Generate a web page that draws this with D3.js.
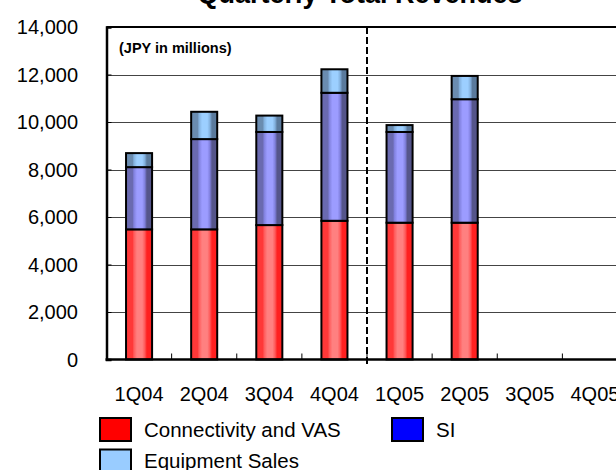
<!DOCTYPE html>
<html>
<head>
<meta charset="utf-8">
<script src="https://cdn.jsdelivr.net/npm/d3@7"></script>
<style>
  html, body { margin: 0; padding: 0; background: #fff; }
  svg { display: block; }
  text { font-family: "Liberation Sans", Arial, sans-serif; }
</style>
</head>
<body>
<svg id="chart" width="616" height="470"></svg>
<script>
// ---- data ----
const categories = ["1Q04", "2Q04", "3Q04", "4Q04", "1Q05", "2Q05", "3Q05", "4Q05"];
const connectivity = [5480, 5480, 5660, 5840, 5760, 5760, null, null];
const si = [2620, 3800, 3920, 5390, 3820, 5200, null, null];
const equipment = [590, 1150, 690, 990, 290, 980, null, null];
const yTicks = [0, 2000, 4000, 6000, 8000, 10000, 12000, 14000];
const seriesNames = ["Connectivity and VAS", "SI", "Equipment Sales"];
const titleText = "Quarterly Total Revenues";
const unitText = "(JPY in millions)";

(function () {
// ---- layout ----
const svg = d3.select("#chart");
const pL = 106.5, pR = 627.5, pT = 27, pB = 359.5;

const x = d3.scaleBand().domain(categories).range([pL, pR])
  .paddingInner(0.6).paddingOuter(0.3);
const y = d3.scaleLinear().domain([0, 14000]).range([pB, pT]);

// gradients
const defs = svg.append("defs");
function grad(id, dark, mid, light, darker) {
  const g = defs.append("linearGradient").attr("id", id)
    .attr("x1", "0%").attr("x2", "100%").attr("y1", "0%").attr("y2", "0%");
  [[0, dark], [0.25, dark], [0.3, mid], [0.42, light], [0.62, light], [0.72, mid], [0.8, darker], [1, darker]]
    .forEach(([o, c]) => g.append("stop").attr("offset", o).attr("stop-color", c));
}
grad("gRed", "#ff3838", "#ff5a5a", "#ff8080", "#ff2020");
grad("gBlue", "#6a6ab0", "#8080dd", "#9c9cff", "#55558a");
grad("gLight", "#6a8cb0", "#82b0dd", "#9ccfff", "#5a7a9c");

// gridlines
svg.append("g").selectAll("line").data(yTicks.filter(d => d > 0 && d < 14000)).join("line")
  .attr("x1", pL).attr("x2", 616)
  .attr("y1", d => Math.round(y(d)) + 0.5).attr("y2", d => Math.round(y(d)) + 0.5)
  .attr("stroke", "#444").attr("stroke-width", 1);

// stacked bars
const rows = categories.map((c, i) => ({ cat: c, c: connectivity[i], s: si[i], e: equipment[i] }))
  .filter(r => r.c != null);
const stack = d3.stack().keys(["c", "s", "e"])(rows);
const fills = ["url(#gRed)", "url(#gBlue)", "url(#gLight)"];
svg.append("g").selectAll("g").data(stack).join("g")
  .attr("fill", (d, i) => fills[i])
  .selectAll("rect").data(d => d).join("rect")
  .attr("x", d => x(d.data.cat))
  .attr("width", x.bandwidth())
  .attr("y", d => y(d[1]))
  .attr("height", d => y(d[0]) - y(d[1]))
  .attr("stroke", "#000").attr("stroke-width", 2);

// dashed separator between 4Q04 and 1Q05
const sepX = (x("4Q04") + x.bandwidth() + x("1Q05")) / 2;
svg.append("line").attr("x1", sepX).attr("x2", sepX)
  .attr("y1", pT).attr("y2", pB + 7)
  .attr("stroke", "#000").attr("stroke-width", 2).attr("stroke-dasharray", "7,3");

// frame: top line, left axis, bottom axis
svg.append("line").attr("x1", pL).attr("x2", 616).attr("y1", pT).attr("y2", pT)
  .attr("stroke", "#000").attr("stroke-width", 2);

const yAxis = svg.append("g").attr("transform", `translate(${pL},0)`)
  .call(d3.axisRight(y).tickValues(yTicks).tickSize(5).tickFormat(""));
yAxis.select(".domain").attr("stroke-width", 2.5);

const xAxisG = svg.append("g").attr("transform", `translate(0,${pB})`);
xAxisG.append("line").attr("x1", pL - 1).attr("x2", 616).attr("y1", 0).attr("y2", 0)
  .attr("stroke", "#000").attr("stroke-width", 2.5);
// category boundary ticks (pointing upward)
const boundaries = categories.slice(1).map(c => x(c) - x.step() * x.paddingInner() / 2);
xAxisG.selectAll("line.tk").data(boundaries).join("line").attr("class", "tk")
  .attr("x1", d => d).attr("x2", d => d).attr("y1", 0).attr("y2", -6)
  .attr("stroke", "#000").attr("stroke-width", 1);

// y tick labels
svg.append("g").selectAll("text").data(yTicks).join("text")
  .attr("x", 78).attr("y", d => y(d)).attr("dy", "0.36em")
  .attr("text-anchor", "end").attr("font-size", 20).attr("fill", "#000")
  .text(d => d3.format(",")(d));

// x labels
svg.append("g").selectAll("text").data(categories).join("text")
  .attr("x", d => x(d) + x.bandwidth() / 2).attr("y", 401)
  .attr("text-anchor", "middle").attr("font-size", 20).attr("fill", "#000")
  .text(d => d);

// title
svg.append("text").attr("x", 360).attr("y", 3).attr("text-anchor", "middle")
  .attr("font-size", 27).attr("font-weight", "bold").text(titleText);

// unit label
svg.append("text").attr("x", 119).attr("y", 53)
  .attr("font-size", 14.5).attr("font-weight", "bold").text(unitText);

// legend
const legendColors = ["#ff0000", "#0000ff", "#99ccff"];
const legendPos = [[100, 418], [392, 418], [100, 449.5]];
const lg = svg.append("g");
seriesNames.forEach((name, i) => {
  const [lx, ly] = legendPos[i];
  lg.append("rect").attr("x", lx).attr("y", ly).attr("width", 31).attr("height", 23)
    .attr("fill", legendColors[i]).attr("stroke", "#000").attr("stroke-width", 2);
  lg.append("text").attr("x", lx + 44).attr("y", ly + 18.5)
    .attr("font-size", 20.5).attr("fill", "#000").text(name);
});
})();
</script>
</body>
</html>
